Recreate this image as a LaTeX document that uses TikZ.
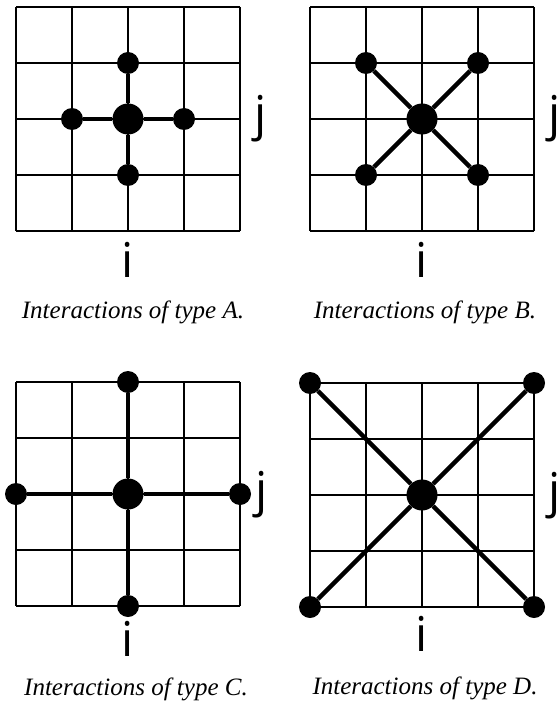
\documentclass[tikz,border=0pt]{standalone}
\usepackage{fontspec}
\setmainfont{Liberation Serif}
\newfontfamily\idxfont{Open Sans}

\tikzset{
  cellline/.style={line width=1.3pt},
  bond/.style={line width=4.5pt},
  bigdot/.style={circle,fill=black,inner sep=0pt,minimum size=31pt},
  smalldot/.style={circle,fill=black,inner sep=0pt,minimum size=22pt},
  idx/.style={anchor=base,inner sep=0pt,font=\idxfont\fontsize{48}{48}\selectfont},
  caption/.style={anchor=base,inner sep=0pt,font=\itshape\fontsize{25}{25}\selectfont}
}

\begin{document}
\begin{tikzpicture}[x=1pt,y=-1pt]
\useasboundingbox (0,0) rectangle (558,711);

% type A
\begin{scope}[shift={(16,7)}]
\foreach \k in {0,56,...,224} {
  \draw[cellline] (\k,0) -- (\k,224);
  \draw[cellline] (0,\k) -- (224,\k);
}
\node[bigdot] (a0) at (112,112) {};
\node[smalldot] (an) at (112,56) {};
\node[smalldot] (aw) at (56,112) {};
\node[smalldot] (ae) at (168,112) {};
\node[smalldot] (as) at (112,168) {};
\foreach \d in {an,aw,ae,as}
  \draw[bond] (a0) -- (\d);
\node[idx] (aj) at (245,124) {j};
\node[idx] (ai) at (112,270) {i};
\node[caption] (acap) at (117,311) {Interactions of type A.};
\end{scope}

% type B
\begin{scope}[shift={(310,7)}]
\foreach \k in {0,56,...,224} {
  \draw[cellline] (\k,0) -- (\k,224);
  \draw[cellline] (0,\k) -- (224,\k);
}
\node[bigdot] (b0) at (112,112) {};
\node[smalldot] (bnw) at (56,56) {};
\node[smalldot] (bne) at (168,56) {};
\node[smalldot] (bsw) at (56,168) {};
\node[smalldot] (bse) at (168,168) {};
\foreach \d in {bnw,bne,bsw,bse}
  \draw[bond] (b0) -- (\d);
\node[idx] (bj) at (245,124) {j};
\node[idx] (bi) at (112,270) {i};
\node[caption] (bcap) at (115,311) {Interactions of type B.};
\end{scope}

% type C
\begin{scope}[shift={(16,382)}]
\foreach \k in {0,56,...,224} {
  \draw[cellline] (\k,0) -- (\k,224);
  \draw[cellline] (0,\k) -- (224,\k);
}
\node[bigdot] (c0) at (112,112) {};
\node[smalldot] (cn) at (112,0) {};
\node[smalldot] (cw) at (0,112) {};
\node[smalldot] (ce) at (224,112) {};
\node[smalldot] (cs) at (112,224) {};
\foreach \d in {cn,cw,ce,cs}
  \draw[bond] (c0) -- (\d);
\node[idx] (cj) at (246,124) {j};
\node[idx] (ci) at (112,274) {i};
\node[caption] (ccap) at (120,313) {Interactions of type C.};
\end{scope}

% type D
\begin{scope}[shift={(310,383)}]
\foreach \k in {0,56,...,224} {
  \draw[cellline] (\k,0) -- (\k,224);
  \draw[cellline] (0,\k) -- (224,\k);
}
\node[bigdot] (d0) at (112,112) {};
\node[smalldot] (dnw) at (0,0) {};
\node[smalldot] (dne) at (224,0) {};
\node[smalldot] (dsw) at (0,224) {};
\node[smalldot] (dse) at (224,224) {};
\foreach \d in {dnw,dne,dsw,dse}
  \draw[bond] (d0) -- (\d);
\node[idx] (dj) at (245,124) {j};
\node[idx] (di) at (112,268) {i};
\node[caption] (dcap) at (115,311) {Interactions of type D.};
\end{scope}
\end{tikzpicture}
\end{document}
